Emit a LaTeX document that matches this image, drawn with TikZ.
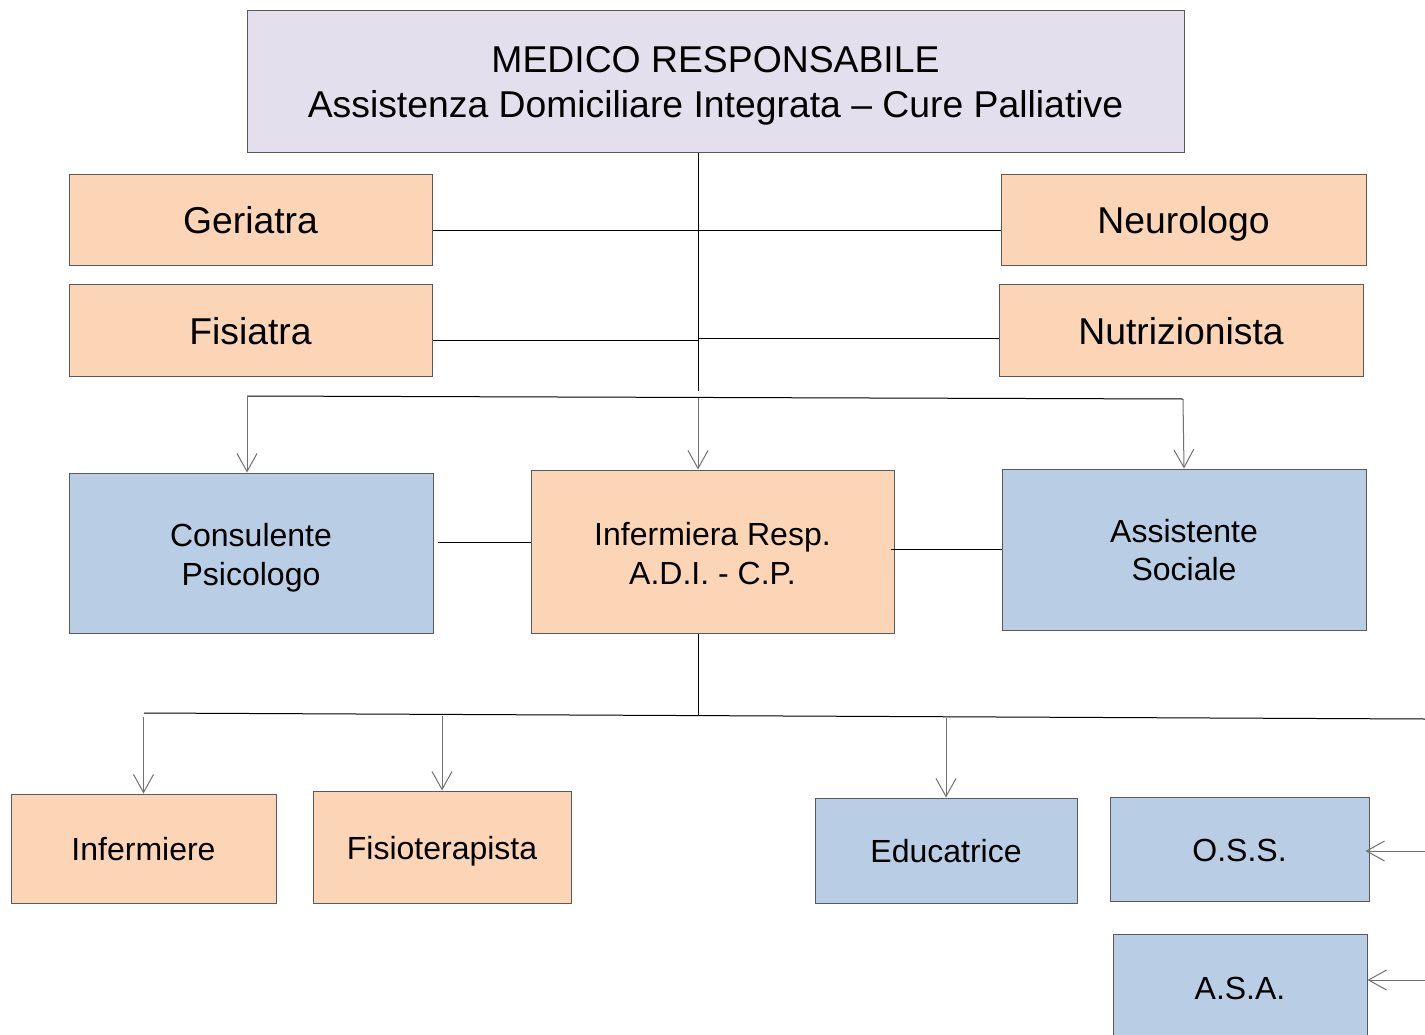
\documentclass[tikz,border=0pt]{standalone}
\usepackage{fontspec}
\setmainfont{Liberation Sans}
\usetikzlibrary{arrows.meta}
\definecolor{lav}{HTML}{E4DFEC}
\definecolor{peach}{HTML}{FBD5B5}
\definecolor{bluebox}{HTML}{B9CDE5}
\definecolor{edgec}{HTML}{5A5A5A}
\definecolor{arrc}{HTML}{707070}
\newcommand\topgap[1]{\rule{0pt}{\dimexpr\fontcharht\font`\l+#1\relax}}
\begin{document}
\begin{tikzpicture}[x=0.75pt,y=-0.75pt,
  box/.style={draw=edgec, line width=0.75pt, inner sep=0pt, align=center},
  sz/.style 2 args={minimum width=#1*0.75pt, minimum height=#2*0.75pt},
  big/.style={font=\fontsize{28}{34}\selectfont},
  mid/.style={font=\fontsize{24}{29}\selectfont},
  onebig/.style={text height=21.6pt, text depth=0pt},
  onemid/.style={text height=18.7pt, text depth=0pt},
  pch/.style={box, fill=peach},
  blu/.style={box, fill=bluebox},
  conn/.style={line width=0.75pt, black},
  arr/.style={line width=0.75pt, draw=arrc, -{Straight Barb[length=13.5pt,width=15pt]}}]
\useasboundingbox (0,0) rectangle (1425,1035);
% boxes
\node[box, fill=lav, big, sz={937}{142}] (top) at (715.5,81) {\topgap{7.5pt}MEDICO RESPONSABILE\\Assistenza Domiciliare Integrata -- Cure Palliative};
\node[pch, big, onebig, sz={363}{91}] (ger) at (250.5,219.5) {Geriatra};
\node[pch, big, onebig, sz={365}{91}] (neu) at (1183.5,219.5) {Neurologo};
\node[pch, big, onebig, sz={363}{92}] (fis) at (250.5,330) {Fisiatra};
\node[pch, big, onebig, sz={364}{92}] (nut) at (1181,330) {Nutrizionista};
\node[blu, mid, sz={364}{160}] (psi) at (251,553) {\topgap{7.5pt}Consulente\\Psicologo};
\node[pch, mid, sz={363}{163}] (inf) at (712.5,551.5) {\topgap{3.75pt}Infermiera Resp.\\A.D.I. - C.P.};
\node[blu, mid, sz={364}{161}] (ass) at (1184,549.5) {\topgap{1.5pt}Assistente\\Sociale};
\node[pch, mid, onemid, sz={265}{109}] (inm) at (143.5,848.5) {Infermiere};
\node[pch, mid, onemid, sz={258}{112}] (fst) at (442,847) {Fisioterapista};
\node[blu, mid, onemid, sz={262}{105}] (edu) at (946,850.5) {Educatrice};
\node[blu, mid, onemid, sz={259}{104}] (oss) at (1239.5,849) {O.S.S.};
\node[blu, mid, onemid, sz={254}{106}] (asa) at (1240,987) {A.S.A.};
% junction coordinates
\coordinate (j1) at (698,391);
\coordinate (b1l) at (247,396);
\coordinate (b1m) at (698,398);
\coordinate (b1r) at (1183,399);
\coordinate (j3) at (698,715);
\coordinate (b2l) at (144,713);
\coordinate (b2r) at (1425,719);
\coordinate (r1) at (1425,851);
\coordinate (r2) at (1425,980);
% upper connectors
\draw[conn] (j1 |- top.south) -- (j1);
\draw[conn] (ger.east |- 0,230) -- (neu.west |- 0,230);
\draw[conn] (fis.east |- 0,340) -- (j1 |- 0,340);
\draw[conn] (j1 |- 0,338) -- (nut.west |- 0,338);
\draw[conn] (b1l) -- (b1r);
\draw[arr] (b1l) -- (b1l |- psi.north);
\draw[arr] (b1m) -- (b1m |- inf.north);
\draw[arr] (b1r) -- (ass.north);
% middle row
\draw[conn] ([xshift=3pt]psi.east |- 0,542) -- (inf.west |- 0,542);
\draw[conn] ([xshift=-3pt]inf.east |- ass.west) -- (ass.west);
% lower connectors
\draw[conn] (j3 |- inf.south) -- (j3);
\draw[conn] (b2l) -- (b2r);
\draw[arr] (inm.north |- 0,717) -- (inm.north);
\draw[arr] (fst.north |- 0,716) -- (fst.north);
\draw[arr] (edu.north |- 0,718) -- (edu.north);
\draw[arr] (r1) -- ([xshift=-3pt]oss.east |- r1);
\draw[arr] (r2) -- (asa.east |- r2);
\end{tikzpicture}
\end{document}
